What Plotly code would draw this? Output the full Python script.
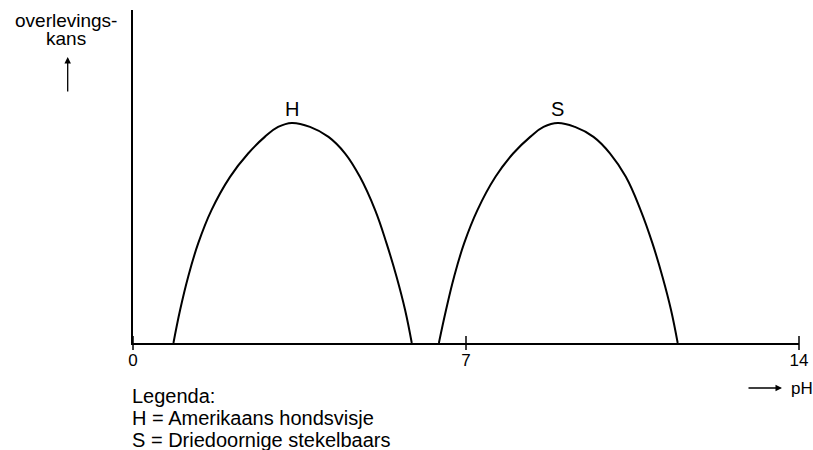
import plotly.graph_objects as go

# survival chance (0-100, arbitrary) against pH
ph_h = [0.85, 0.99, 1.16, 1.37, 1.65, 2.04, 2.42, 2.77, 3.05, 3.34,
        3.72, 4.11, 4.46, 4.77, 5.09, 5.33, 5.54, 5.72, 5.86]
ph_s = [6.43, 6.58, 6.75, 6.96, 7.24, 7.62, 7.99, 8.35, 8.63, 8.93,
        9.29, 9.68, 10.03, 10.36, 10.67, 10.92, 11.13, 11.31, 11.45]
kans = [0, 9.9, 19.9, 29.9, 39.9, 49.9, 56.9, 61.9, 64.9, 66.1,
        64.9, 61.9, 56.9, 49.9, 39.9, 29.9, 19.9, 9.9, 0]

tick_vals = [0, 7, 14]
tick_text = ["0", "7", "14"]

legend_lines = [
    "Legenda:",
    "H = Amerikaans hondsvisje",
    "S = Driedoornige stekelbaars",
]

W, H = 813, 450
L, R, T, B = 133, 14, 10, 107
FONT = "Liberation Sans, Arial, sans-serif"


def px(x):
    """page x pixel -> paper coordinate"""
    return (x - L) / (W - L - R)


def py(y):
    """page y pixel -> paper coordinate"""
    return (H - B - y) / (H - T - B)


fig = go.Figure()
line = dict(color="black", width=2, shape="spline", smoothing=1.2)
fig.add_scatter(x=ph_h, y=kans, mode="lines", line=line)
fig.add_scatter(x=ph_s, y=kans, mode="lines", line=line)

# tick marks crossing the axis line
fig.add_scatter(
    x=tick_vals,
    y=[0] * len(tick_vals),
    mode="markers",
    marker=dict(symbol="line-ns", size=10, line=dict(color="black", width=1.5)),
    cliponaxis=False,
)

# curve labels just above each peak
top = kans.index(max(kans))
fig.add_annotation(x=ph_h[top], y=70.2, text="H", showarrow=False,
                   font=dict(size=20), yanchor="middle")
fig.add_annotation(x=ph_s[top], y=70.2, text="S", showarrow=False,
                   font=dict(size=20), yanchor="middle")

# y-axis title and arrow
fig.add_annotation(xref="paper", yref="paper", x=px(66), y=py(20.5), text="overlevings-",
                   showarrow=False, font=dict(size=19), xanchor="center", yanchor="middle")
fig.add_annotation(xref="paper", yref="paper", x=px(66), y=py(38.5), text="kans",
                   showarrow=False, font=dict(size=19), xanchor="center", yanchor="middle")
fig.add_annotation(xref="paper", yref="paper", x=px(67.7), y=py(57), ax=0, ay=36,
                   text="", showarrow=True, arrowhead=2, arrowsize=1, arrowwidth=1.3,
                   arrowcolor="black")

# x-axis title and arrow
fig.add_annotation(xref="paper", yref="paper", x=px(782), y=py(388), ax=-35, ay=0,
                   text="", showarrow=True, arrowhead=2, arrowsize=1, arrowwidth=1.3,
                   arrowcolor="black")
fig.add_annotation(xref="paper", yref="paper", x=px(789), y=py(388), text="pH",
                   showarrow=False, font=dict(size=17), xanchor="left", yanchor="middle")

# legend text block
for i, txt in enumerate(legend_lines):
    fig.add_annotation(xref="paper", yref="paper", x=px(130), y=py(396 + 22 * i), text=txt,
                       showarrow=False, font=dict(size=20), xanchor="left", yanchor="middle")

fig.update_xaxes(
    range=[0, 14],
    showline=True, linecolor="black", linewidth=2,
    showgrid=False, zeroline=False,
    tickvals=tick_vals, ticktext=tick_text,
    ticks="outside", ticklen=1, tickcolor="rgba(0,0,0,0)",
    tickfont=dict(size=17), automargin=False,
)
fig.update_yaxes(
    range=[0, 100],
    showline=True, linecolor="black", linewidth=2,
    showgrid=False, zeroline=False,
    showticklabels=False, ticks="", automargin=False,
)
fig.update_layout(
    width=W, height=H, autosize=False,
    margin=dict(l=L, r=R, t=T, b=B),
    showlegend=False,
    plot_bgcolor="white", paper_bgcolor="white",
    font=dict(family=FONT, color="black"),
)
# drop the default body margin so the figure fills the window exactly,
# then redraw at the full size
fig.write_html(
    "out.html",
    config={"displayModeBar": False, "responsive": False},
    post_script=(
        "document.body.style.margin='0';"
        "document.body.style.overflow='hidden';"
        "Plotly.relayout('{plot_id}', {width: %d, height: %d});" % (W, H)
    ),
)
